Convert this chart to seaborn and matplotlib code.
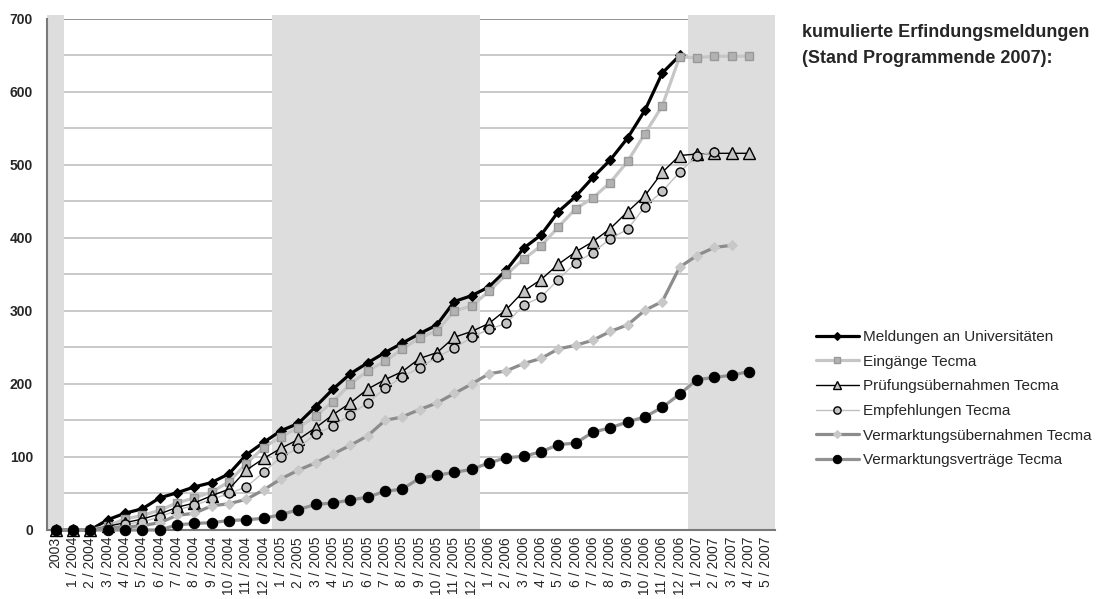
import numpy as np
import pandas as pd
import matplotlib
matplotlib.use('Agg')
import matplotlib.pyplot as plt
import seaborn as sns

# x-achse: monate
labels = ['2003'] + ['%d / %d' % (m, y) for y in (2004, 2005, 2006) for m in range(1, 13)] \
         + ['%d / 2007' % m for m in range(1, 6)]

nan = np.nan
meldungen = [0, 0, 0, 14, 23, 29, 44, 51, 59, 65, 77, 103, 120, 136, 146, 169, 193, 214, 229, 243,
             256, 269, 281, 313, 321, 333, 356, 386, 404, 436, 457, 483, 507, 537, 575, 626, 650,
             nan, nan, nan, nan, nan]
eingaenge = [0, 0, 0, 6, 15, 20, 27, 37, 44, 52, 66, 91, 113, 128, 140, 156, 176, 200, 218, 231,
             248, 263, 273, 300, 307, 327, 350, 371, 389, 415, 440, 455, 476, 505, 543, 581, 648,
             647, 649, 649, 649, nan]
pruefung = [0, 0, 0, 5, 10, 15, 22, 31, 37, 47, 56, 82, 98, 112, 124, 140, 158, 174, 193, 206,
            217, 235, 243, 264, 272, 283, 302, 327, 343, 364, 381, 395, 413, 436, 458, 490, 513,
            515, 516, 516, 516, nan]
empfehlungen = [0, 0, 0, 2, 8, 11, 18, 27, 34, 42, 50, 59, 79, 100, 112, 132, 142, 158, 174, 194,
                210, 222, 237, 249, 264, 275, 283, 308, 319, 343, 366, 380, 399, 412, 443, 464, 490,
                513, 518, nan, nan, nan]
verm_uebernahmen = [0, 0, 0, 3, 4, 6, 10, 20, 23, 33, 36, 42, 55, 70, 82, 92, 104, 116, 129, 150,
                    155, 165, 174, 187, 200, 214, 218, 228, 235, 248, 253, 260, 272, 281, 301, 313,
                    360, 376, 387, 390, nan, nan]
verm_vertraege = [0, 0, 0, 0, 0, 0, 0, 7, 9, 10, 13, 14, 16, 21, 28, 35, 37, 41, 45, 53,
                  56, 71, 75, 79, 83, 92, 99, 101, 107, 117, 119, 134, 140, 148, 155, 168, 186,
                  206, 209, 212, 217, nan]

series = {
    'Meldungen an Universitäten': meldungen,
    'Eingänge Tecma': eingaenge,
    'Prüfungsübernahmen Tecma': pruefung,
    'Empfehlungen Tecma': empfehlungen,
    'Vermarktungsübernahmen Tecma': verm_uebernahmen,
    'Vermarktungsverträge Tecma': verm_vertraege,
}

styles = {
    'Meldungen an Universitäten': dict(color='black', linewidth=2.3, marker='D', markersize=5.5,
                                       markerfacecolor='black', mec='black'),
    'Eingänge Tecma': dict(color='#c6c6c6', linewidth=2.3, marker='s', markersize=6,
                           markerfacecolor='#b2b2b2', mec='#999999', mew=1),
    'Prüfungsübernahmen Tecma': dict(color='black', linewidth=1, marker='^', markersize=8,
                                     markerfacecolor='#c4c4c4', mec='black', mew=1),
    'Empfehlungen Tecma': dict(color='#c0c0c0', linewidth=1, marker='o', markersize=6.5,
                               markerfacecolor='#c4c4c4', mec='black', mew=1),
    'Vermarktungsübernahmen Tecma': dict(color='#8c8c8c', linewidth=2.3, marker='D', markersize=5.5,
                                         markerfacecolor='#c8c8c8', mec='#c8c8c8'),
    'Vermarktungsverträge Tecma': dict(color='#929292', linewidth=2.3, marker='o', markersize=7.5,
                                       markerfacecolor='black', mec='black'),
}

sns.set_style('white')
plt.rcParams['font.family'] = ['Liberation Sans', 'DejaVu Sans']

fig = plt.figure(figsize=(11.16, 5.99), dpi=100)
ax = fig.add_axes([0.0421, 0.1152, 0.6523, 0.8531])

# graue baender fuer ungerade jahre (2003, 2005, 2007)
odd = [int(l[-4:]) % 2 == 1 for l in labels]
i = 0
while i < len(labels):
    if odd[i]:
        j = i
        while j + 1 < len(labels) and odd[j + 1]:
            j += 1
        ax.axvspan(i - 0.5, j + 0.5, ymin=0, ymax=1.008, color='#dddddd', lw=0, zorder=1, clip_on=False)
        i = j + 1
    else:
        i += 1

for n, (name, vals) in enumerate(series.items()):
    d = pd.DataFrame({'monat': range(len(labels)), 'wert': vals}).dropna()
    sns.lineplot(data=d, x='monat', y='wert', ax=ax, label=name, errorbar=None,
                 solid_joinstyle='round', clip_on=False, zorder=3 + n, **styles[name])

ax.set_xlim(-0.5, len(labels) - 0.5)
ax.set_ylim(0, 700)
ax.set_yticks(range(0, 701, 100))
ax.set_yticks(range(50, 700, 100), minor=True)
ax.grid(axis='y', which='both', color='#c0c0c0', lw=1.2)
ax.set_axisbelow(True)
ax.axhline(700, color='#8c8c8c', lw=1.2, zorder=0.6)

for s in ['top', 'right']:
    ax.spines[s].set_visible(False)
for s in ['left', 'bottom']:
    ax.spines[s].set_color('#7a7a7a')
    ax.spines[s].set_linewidth(1.5)

ax.tick_params(axis='y', which='major', length=5, width=1, color='#7a7a7a', pad=5, labelsize=10)
ax.tick_params(axis='y', which='minor', length=0)
for t in ax.get_yticklabels():
    t.set_fontweight('bold')

ax.set_xticks(range(len(labels)))
ax.set_xticklabels(labels, rotation=90, fontsize=10)
ax.set_xticks(np.arange(-0.5, len(labels), 1), minor=True)
ax.tick_params(axis='x', which='major', length=0, pad=5)
ax.tick_params(axis='x', which='minor', length=4, color='#7a7a7a', width=1)
ax.set_xlabel('')
ax.set_ylabel('')

fig.text(802 / 1116, 1 - 37 / 599, 'kumulierte Erfindungsmeldungen', fontsize=13,
         fontweight='bold', va='baseline')
fig.text(802 / 1116, 1 - 63 / 599, '(Stand Programmende 2007):', fontsize=13,
         fontweight='bold', va='baseline')

handles, names = ax.get_legend_handles_labels()
ax.legend(handles, names, loc='upper left', bbox_to_anchor=(816 / 1116, 1 - 330 / 599),
          bbox_transform=fig.transFigure, frameon=False, fontsize=11, handlelength=2.8,
          handletextpad=0.3, labelspacing=0.7, borderpad=0, borderaxespad=0, markerscale=0.8)

fig.savefig('out.png', dpi=100)
